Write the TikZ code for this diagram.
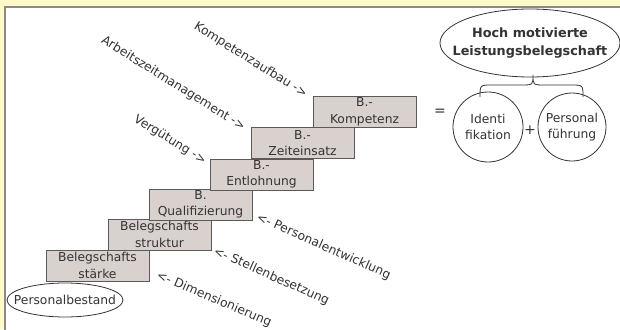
\documentclass[tikz,border=0pt]{standalone}
\usepackage{fontspec}
\setmainfont{DejaVu Sans}
\usetikzlibrary{shapes.geometric}
\definecolor{bgyellow}{HTML}{FFF8C8}
\definecolor{framegray}{HTML}{8A8A8A}
\definecolor{boxfill}{HTML}{D9D1CE}
\definecolor{boxline}{HTML}{5A5A5A}
\definecolor{txt}{HTML}{333333}
\begin{document}
\begin{tikzpicture}[x=1pt,y=-1pt,
  every node/.style={text=txt, font=\fontsize{12.3}{16.5}\selectfont},
  stepbox/.style={draw=boxline, fill=boxfill, line width=0.9pt, minimum width=103pt, minimum height=31pt, inner sep=0pt, align=center},
  oval/.style={draw=txt, line width=0.8pt, ellipse, inner sep=0pt},
  ovaltext/.style={inner sep=0pt, align=center},
  roundel/.style={draw=txt, line width=0.8pt, circle, minimum size=70pt, inner sep=0pt, align=center},
  uplabel/.style={inner sep=0pt, anchor=east, rotate=-32},
  downlabel/.style={inner sep=0pt, anchor=west, rotate=-24},
  bline/.style={draw=txt, line width=0.8pt}
]
\useasboundingbox (0,0) rectangle (620,329);
\fill[bgyellow] (0,0) rectangle (620,329);
\draw[framegray, line width=1.5pt, fill=white] (5,7) rectangle (624,333);

% steps
\node[stepbox] (staerke) at (97.5,265.5) {Belegschafts\\stärke};
\node[stepbox] (struktur) at (159.5,234.5) {Belegschafts\\struktur};
\node[stepbox] (quali) at (200.5,204.5) {B.\\Qualifizierung};
\node[stepbox] (entl) at (261.5,174.5) {B.-\\Entlohnung};
\node[stepbox] (zeit) at (302.5,143) {B.-\\Zeiteinsatz};
\node[stepbox] (komp) at (364.5,112) {B.-\\Kompetenz};

% base
\node[oval, minimum width=116pt, minimum height=34pt] (bestand) at (65,300) {};
\node[ovaltext] (bestandtext) at (bestand.center) {Personalbestand};

% labels
\node[uplabel] (l1) at (306,95) {Kompetenzaufbau ->};
\node[uplabel] (l2) at (244,128) {Arbeitszeitmanagement ->};
\node[uplabel] (l3) at (205,162) {Vergütung ->};
\node[downlabel] (l4) at (257,217) {<- Personalentwicklung};
\node[downlabel] (l5) at (214,251) {<- Stellenbesetzung};
\node[downlabel, rotate=1] (l6) at (157,275) {<- Dimensionierung};

% right part
\node[font=\fontsize{14}{16}\selectfont] (eq) at (440,112) {=};
\node[oval, minimum width=180pt, minimum height=68pt] (hoch) at (530,43) {};
\node[ovaltext, font=\bfseries\fontsize{12.8}{17.5}\selectfont] (hochtext) at (hoch.center) {Hoch motivierte\\Leistungsbelegschaft};
\node[roundel] (ident) at (488,127) {Identi\\fikation};
\node[roundel, minimum size=68pt] (fuehr) at (572,127) {Personal\\führung};
\node[font=\fontsize{14}{16}\selectfont] (plus) at (530,130) {+};

% brace
\coordinate (bl) at (480,97);
\coordinate (br) at (583,97);
\coordinate (bt) at (533,75);
\draw[bline] (bl) .. controls (480,85) .. (492,85) -- (521,85) .. controls (533,85) .. (bt)
  .. controls (533,85) .. (545,85) -- (571,85) .. controls (583,85) .. (br);
\end{tikzpicture}
\end{document}
